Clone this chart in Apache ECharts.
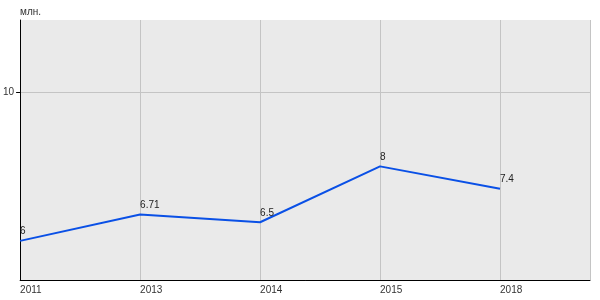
<!DOCTYPE html>
<html><head><meta charset="utf-8">
<script src="https://cdn.jsdelivr.net/npm/echarts@6/dist/echarts.min.js"></script>
<style>html,body{margin:0;padding:0;background:#fff}#c{width:600px;height:300px}</style>
</head><body><div id="c"></div>
<script>
var categories = ['2011', '2013', '2014', '2015', '2018'];
var values = [6, 6.71, 6.5, 8, 7.4];
var yTicks = [10];
var unitLabel = 'млн.';

var chart = echarts.init(document.getElementById('c'), null, {renderer: 'canvas'});
var data = values.map(function (v, i) { return [i, v]; });
chart.setOption({
  animation: false,
  textStyle: {fontFamily: 'Liberation Sans, Arial, sans-serif'},
  grid: {left: 20, right: 10, top: 20, bottom: 20, show: true, backgroundColor: '#eaeaea', borderWidth: 0},
  title: {text: unitLabel, left: 15, top: 2, textStyle: {fontSize: 10, fontWeight: 'normal', color: '#333'}},
  xAxis: {
    type: 'value', min: 0, max: 4.75, interval: 1,
    axisLine: {show: true, onZero: false, lineStyle: {color: '#000', width: 1}},
    axisTick: {show: false},
    splitLine: {show: true, lineStyle: {color: '#c4c4c4', width: 1}},
    axisLabel: {
      showMaxLabel: false, fontSize: 10, color: '#333', align: 'left', margin: 5,
      formatter: function (v) { return categories[v] !== undefined ? categories[v] : ''; }
    }
  },
  yAxis: {
    type: 'value', min: 4.95, max: 11.93,
    axisLine: {show: true, lineStyle: {color: '#000', width: 1}},
    axisTick: {show: true, length: 4, customValues: yTicks, lineStyle: {color: '#000', width: 1}},
    axisLabel: {customValues: yTicks, fontSize: 10, color: '#333', margin: 6},
    splitLine: {show: true, lineStyle: {color: '#c4c4c4', width: 1}}
  },
  series: [{
    type: 'line', data: data,
    symbol: 'circle', symbolSize: 1, itemStyle: {color: 'rgba(0,0,0,0)'},
    lineStyle: {color: '#0a50e6', width: 2},
    label: {show: true, position: 'top', align: 'left', distance: 4, fontSize: 10, color: '#222',
      formatter: function (p) { return String(p.value[1]); }}
  }]
});
</script></body></html>
